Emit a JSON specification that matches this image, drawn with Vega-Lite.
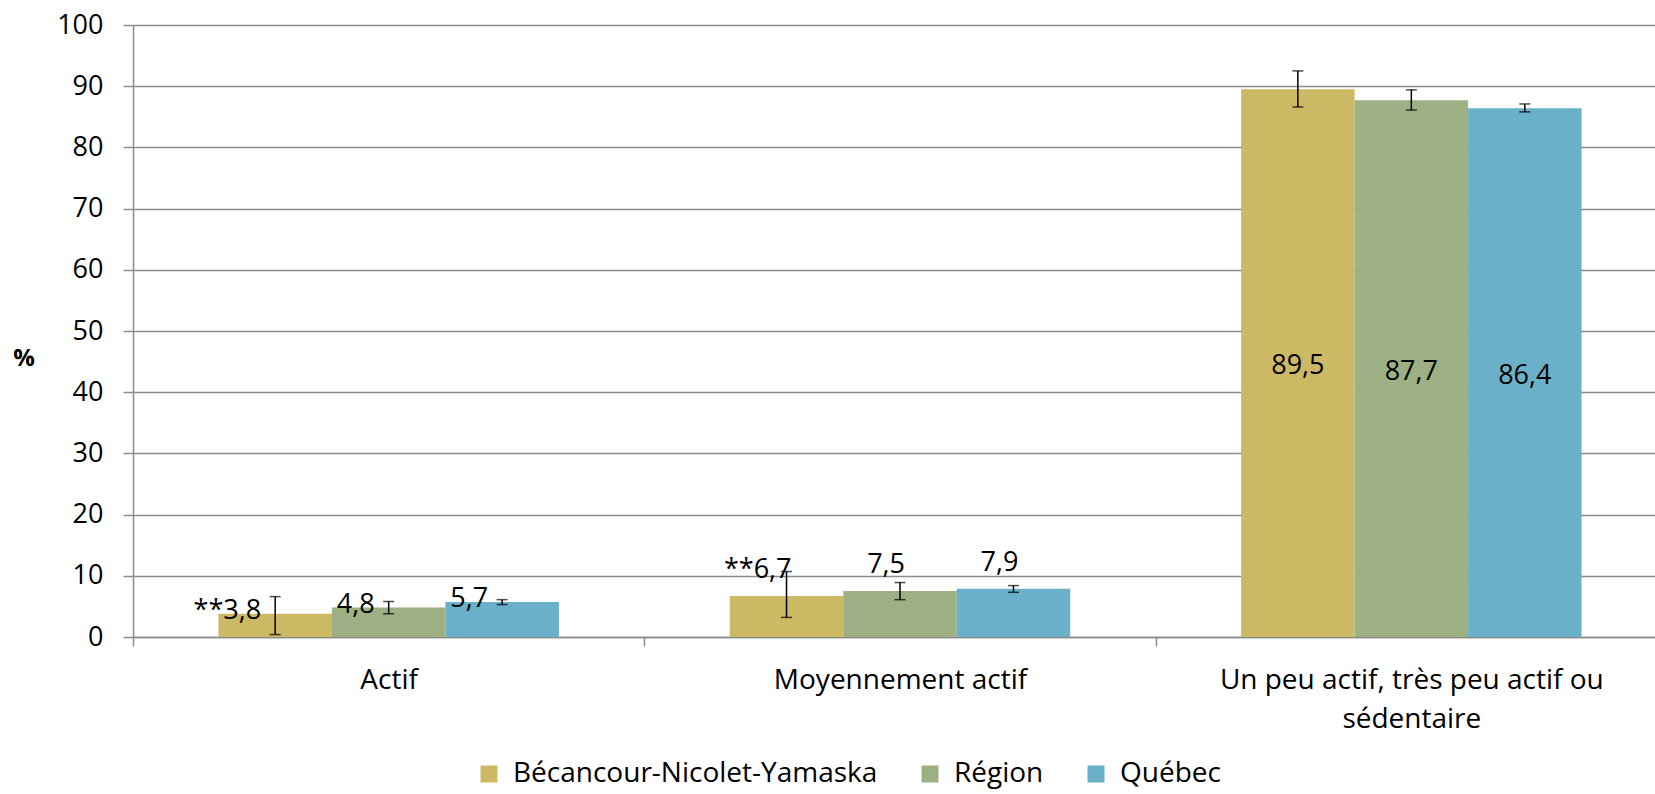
{
  "$schema": "https://vega.github.io/schema/vega-lite/v6.json",
  "autosize": {"type": "none"},
  "padding": {"left": 133, "top": 25, "right": 0, "bottom": 157},
  "width": 1522,
  "height": 612,
  "background": "white",
  "config": {
    "view": {"stroke": null},
    "font": "Open Sans"
  },
  "data": {
    "values": [
      {"cat": "Actif", "region": "Bécancour-Nicolet-Yamaska", "value": 3.8, "lo": 0.4, "hi": 6.6, "label": "**3,8"},
      {"cat": "Actif", "region": "Région", "value": 4.8, "lo": 3.8, "hi": 5.8, "label": "4,8"},
      {"cat": "Actif", "region": "Québec", "value": 5.7, "lo": 5.3, "hi": 6.1, "label": "5,7"},
      {"cat": "Moyennement actif", "region": "Bécancour-Nicolet-Yamaska", "value": 6.7, "lo": 3.2, "hi": 10.7, "label": "**6,7"},
      {"cat": "Moyennement actif", "region": "Région", "value": 7.5, "lo": 6.1, "hi": 8.9, "label": "7,5"},
      {"cat": "Moyennement actif", "region": "Québec", "value": 7.9, "lo": 7.3, "hi": 8.4, "label": "7,9"},
      {"cat": "Un peu actif, très peu actif ou sédentaire", "region": "Bécancour-Nicolet-Yamaska", "value": 89.5, "lo": 86.6, "hi": 92.5, "label": "89,5"},
      {"cat": "Un peu actif, très peu actif ou sédentaire", "region": "Région", "value": 87.7, "lo": 86.1, "hi": 89.4, "label": "87,7"},
      {"cat": "Un peu actif, très peu actif ou sédentaire", "region": "Québec", "value": 86.4, "lo": 85.8, "hi": 87.1, "label": "86,4"}
    ]
  },
  "encoding": {
    "x": {
      "field": "cat",
      "type": "nominal",
      "sort": ["Actif", "Moyennement actif", "Un peu actif, très peu actif ou sédentaire"],
      "scale": {"paddingInner": 0, "paddingOuter": 0, "range": [0, 1534]},
      "title": null,
      "axis": {
        "labelAngle": 0,
        "labelFont": "Open Sans",
        "labelFontSize": 28,
        "labelColor": "#000000",
        "labelPadding": 20,
        "labelLineHeight": 39,
        "labelBaseline": "top",
        "labelLimit": 0,
        "labelExpr": "datum.value == 'Un peu actif, très peu actif ou sédentaire' ? ['Un peu actif, très peu actif ou', 'sédentaire'] : datum.value",
        "tickBand": "extent",
        "tickSize": 9,
        "tickColor": "#8c8c8c",
        "tickWidth": 1.5,
        "domainColor": "#8c8c8c",
        "domainWidth": 1.5,
        "grid": false
      }
    },
    "xOffset": {
      "field": "region",
      "type": "nominal",
      "sort": ["Bécancour-Nicolet-Yamaska", "Région", "Québec"],
      "scale": {"paddingInner": 0, "paddingOuter": 0.753}
    }
  },
  "layer": [
    {
      "layer": [
        {
          "mark": {"type": "bar"},
          "encoding": {
            "y": {
              "field": "value",
              "type": "quantitative",
              "scale": {"domain": [0, 100], "nice": false},
              "title": "%",
              "axis": {
                "values": [0, 10, 20, 30, 40, 50, 60, 70, 80, 90, 100],
                "labelFont": "Open Sans",
                "labelFontSize": 27,
                "labelColor": "#000000",
                "labelPadding": 20,
                "tickSize": 10,
                "tickColor": "#8c8c8c",
                "tickWidth": 1.5,
                "domainColor": "#8c8c8c",
                "domainWidth": 1.5,
                "grid": true,
                "gridColor": "#8c8c8c",
                "gridWidth": 1.5,
                "titleAngle": 0,
                "titleFont": "Open Sans",
                "titleFontSize": 24,
                "titleFontWeight": "bold",
                "titleColor": "#000000",
                "titleAlign": "center",
                "titleBaseline": "middle",
                "titleX": -109.5,
                "titleY": 333
              }
            },
            "color": {
              "field": "region",
              "type": "nominal",
              "sort": ["Bécancour-Nicolet-Yamaska", "Région", "Québec"],
              "scale": {
                "domain": ["Bécancour-Nicolet-Yamaska", "Région", "Québec"],
                "range": ["#CCB964", "#9CB084", "#69B0C8"]
              },
              "legend": {
                "orient": "none",
                "legendX": 342,
                "legendY": 735,
                "direction": "horizontal",
                "title": null,
                "symbolType": "square",
                "symbolSize": 289,
                "symbolStrokeWidth": 0,
                "labelFont": "Open Sans",
                "labelFontSize": 28,
                "labelColor": "#000000",
                "labelOffset": 10,
                "labelLimit": 0,
                "columnPadding": 38
              }
            }
          }
        },
        {
          "mark": {"type": "rule", "color": "#000000", "strokeWidth": 1.5},
          "encoding": {
            "y": {"field": "lo", "type": "quantitative"},
            "y2": {"field": "hi"}
          }
        },
        {
          "mark": {"type": "tick", "color": "#000000", "thickness": 1.5, "size": 11, "orient": "horizontal"},
          "encoding": {
            "y": {"field": "lo", "type": "quantitative"}
          }
        },
        {
          "mark": {"type": "tick", "color": "#000000", "thickness": 1.5, "size": 11, "orient": "horizontal"},
          "encoding": {
            "y": {"field": "hi", "type": "quantitative"}
          }
        },
        {
          "transform": [{"filter": "datum.cat == 'Actif'"}],
          "mark": {"type": "text", "font": "Open Sans", "fontSize": 27, "color": "#000000", "align": "right", "baseline": "middle", "dx": -14, "dy": -3},
          "encoding": {
            "y": {"field": "value", "type": "quantitative"},
            "text": {"field": "label"}
          }
        },
        {
          "transform": [{"filter": "datum.cat == 'Moyennement actif'"}],
          "mark": {"type": "text", "font": "Open Sans", "fontSize": 27, "color": "#000000", "align": "right", "baseline": "middle", "dx": 5, "dy": -26},
          "encoding": {
            "y": {"field": "value", "type": "quantitative"},
            "text": {"field": "label"}
          }
        }
      ]
    },
    {
      "transform": [{"filter": "datum.cat == 'Un peu actif, très peu actif ou sédentaire'"}],
      "mark": {"type": "text", "font": "Open Sans", "fontSize": 27, "color": "#000000", "align": "center", "baseline": "middle", "dy": 3},
      "encoding": {
        "y": {"field": "value", "type": "quantitative", "scale": {"domain": [0, 200], "nice": false}, "axis": null},
        "text": {"field": "label"}
      }
    }
  ],
  "resolve": {"scale": {"y": "independent"}}
}
